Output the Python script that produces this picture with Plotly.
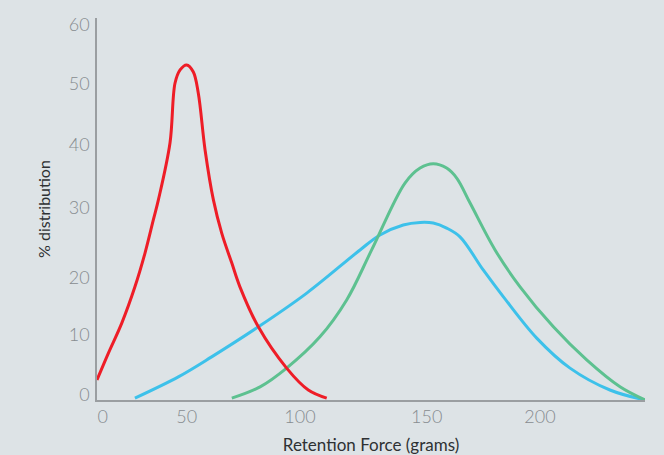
import plotly.graph_objects as go

# Axis units: x in grams (as drawn), y in % distribution
red_x = [0, 5.2, 11.3, 17.3, 21.9, 25.7, 28.0, 33.3, 35.6, 37.9, 40.9, 43.9, 46.2, 49.3, 53.1, 56.9, 61.5, 65.2, 73.6, 86.5, 96.4, 104.8]
red_y = [3.2, 7.5, 12.3, 18.1, 23.5, 28.8, 32.0, 41.1, 50.7, 52.8, 53.6, 52.5, 49.1, 40.0, 32.0, 26.7, 21.9, 18.1, 11.7, 5.1, 1.6, 0.3]

blue_x = [17.3, 37.1, 52.3, 73.6, 95.7, 120.0, 129.1, 139.7, 147.4, 153.4, 159.5, 165.6, 176.2, 185.4, 200.6, 215.8, 234.0, 250]
blue_y = [0.3, 3.7, 6.9, 11.7, 17.1, 24.0, 26.4, 28.0, 28.4, 28.3, 27.5, 26.1, 20.8, 16.5, 9.9, 5.1, 1.6, 0]

green_x = [61.5, 74.4, 86.5, 101.7, 113.9, 125.3, 140.5, 147.4, 153.4, 159.5, 164.1, 170.2, 181.6, 193.0, 208.2, 223.4, 238.6, 250]
green_y = [0.3, 2.1, 5.1, 10.1, 16.0, 24.0, 34.7, 37.1, 37.8, 37.1, 35.5, 31.5, 24.0, 18.1, 11.7, 6.4, 2.1, 0]

x_tick_pos = [2.6, 40.9, 92.6, 150.4, 202.1]
x_tick_labels = ["0", "50", "100", "150", "200"]
y_tick_pos = [0.9, 10.4, 19.6, 30.8, 40.8, 50.6, 60]
y_tick_labels = ["0", "10", "20", "30", "40", "50", "60"]

fig = go.Figure()
for xs, ys, col in [(blue_x, blue_y, "#3dc1ea"),
                    (green_x, green_y, "#5dc190"),
                    (red_x, red_y, "#ee1d27")]:
    fig.add_trace(go.Scatter(x=xs, y=ys, mode="lines",
                             line=dict(color=col, width=3, shape="spline", smoothing=1.0),
                             showlegend=False, hoverinfo="skip"))

tick_font = dict(family="Lato", size=18, color="#878c90", weight=300)
fig.update_layout(
    width=664, height=455,
    margin=dict(l=97, r=19, t=18, b=55, autoexpand=False),
    paper_bgcolor="#dde3e6", plot_bgcolor="#dde3e6",
    xaxis=dict(range=[0, 250], showgrid=False, zeroline=False,
               showline=True, linecolor="#9a9ea1", linewidth=1.5,
               tickmode="array", tickvals=x_tick_pos, ticktext=x_tick_labels,
               ticks="", tickfont=tick_font, automargin=False,
               title=dict(text="Retention Force (grams)", standoff=14,
                          font=dict(family="Lato", size=17, color="#2e3133"))),
    yaxis=dict(range=[0, 61.1], showgrid=False, zeroline=False,
               showline=True, linecolor="#9a9ea1", linewidth=1.5,
               tickmode="array", tickvals=y_tick_pos, ticktext=y_tick_labels,
               ticks="", tickfont=tick_font, ticklabelstandoff=2, automargin=False,
               title=dict(text="% distribution", standoff=14,
                          font=dict(family="Lato", size=16, color="#2e3133"))),
)
fig.write_html("out.html", config={"displayModeBar": False},
               post_script="document.body.style.margin='0';")
